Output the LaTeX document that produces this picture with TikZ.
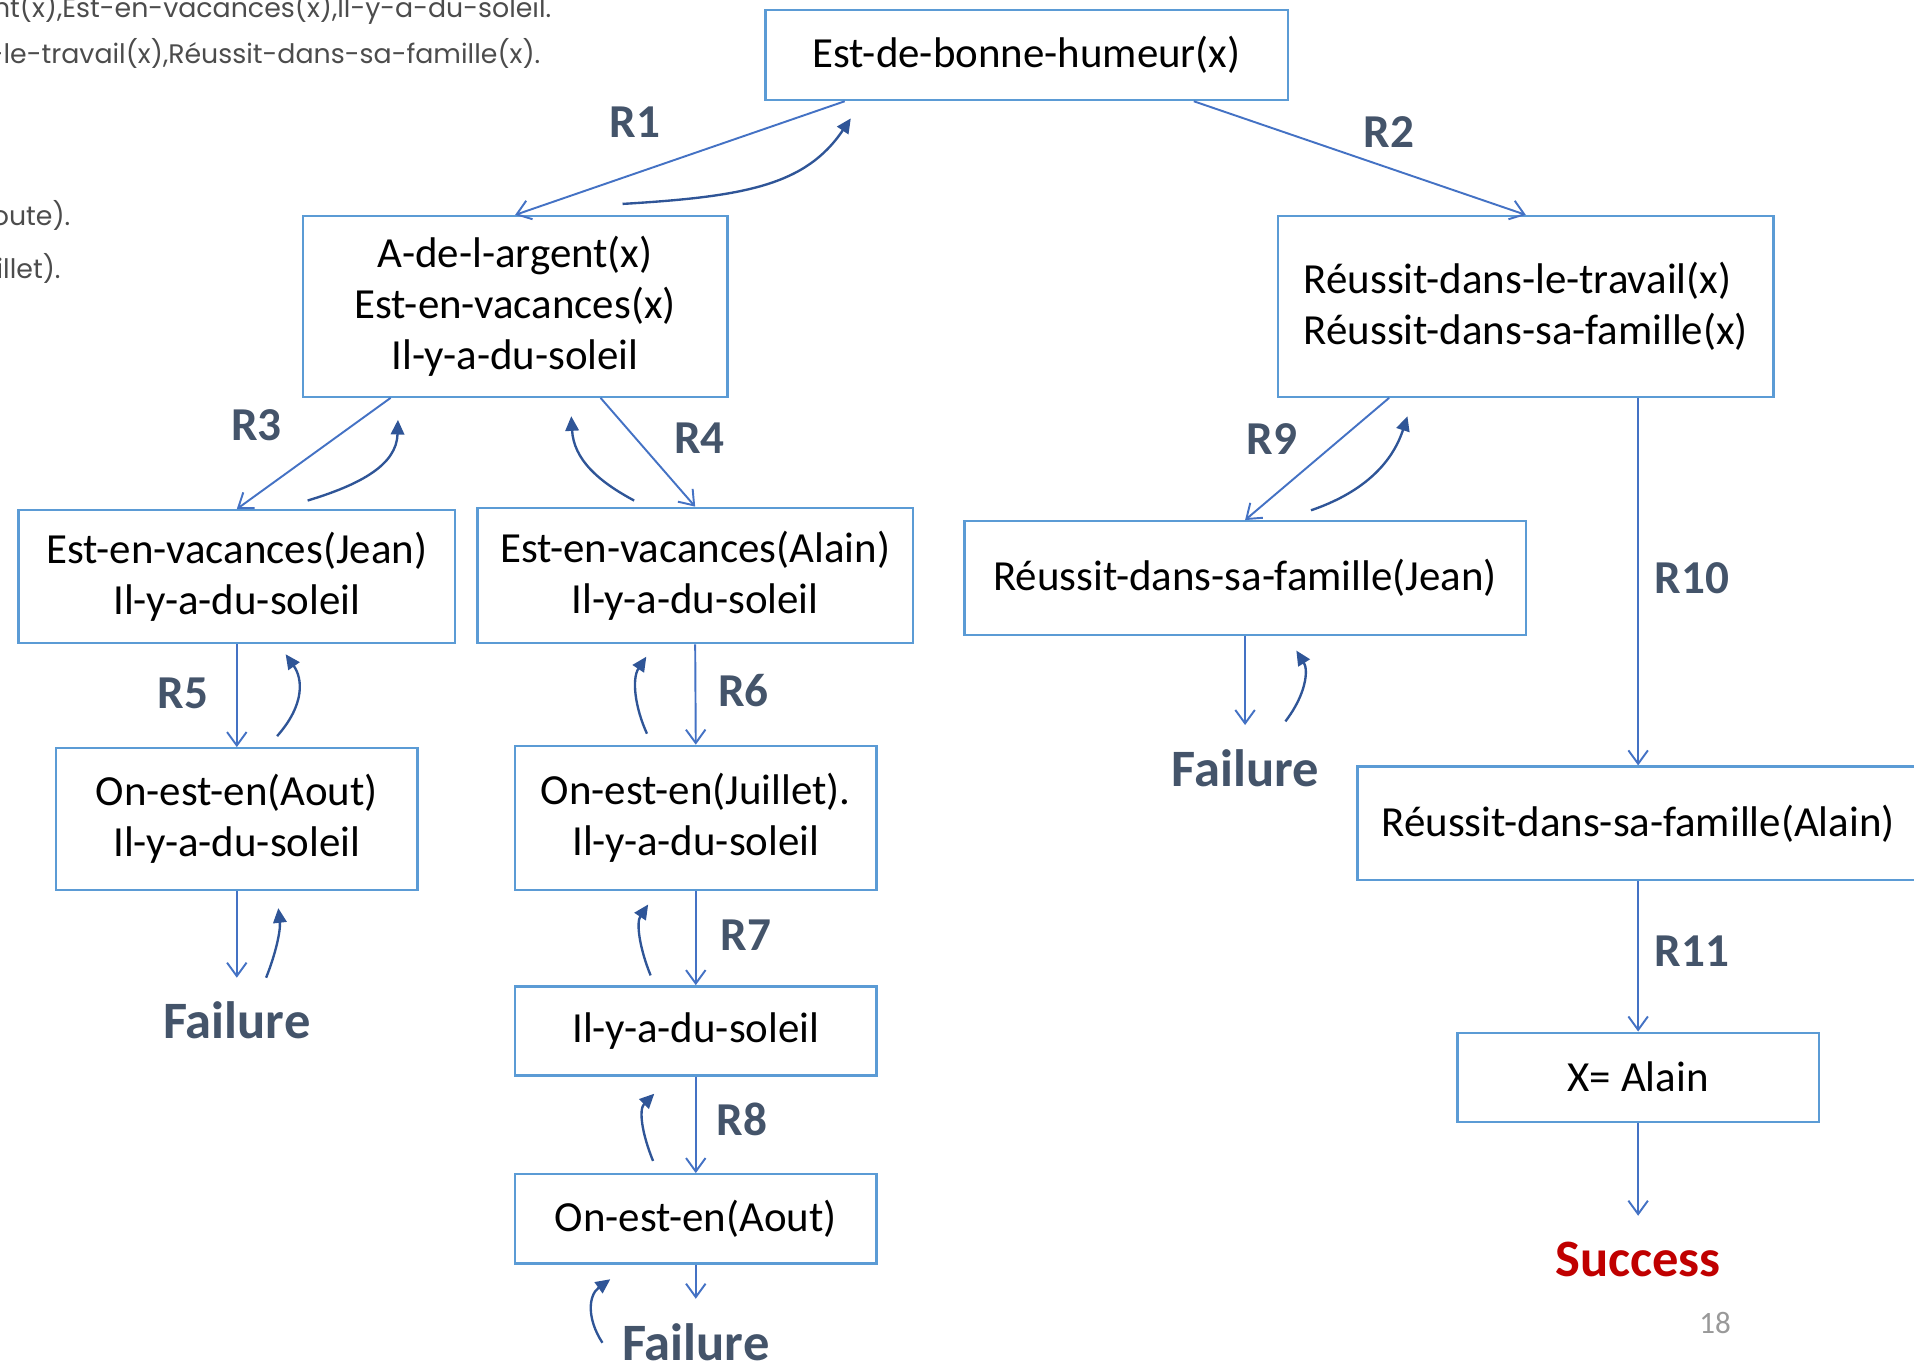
\documentclass[tikz,border=0pt]{standalone}
\usepackage{fontspec}
\setmainfont{Carlito}
\newfontfamily\gothic{Poppins}
\usetikzlibrary{calc}
\usetikzlibrary{arrows.meta}
\definecolor{boxblue}{RGB}{91,155,213}
\definecolor{arrblue}{RGB}{68,114,196}
\definecolor{backblue}{RGB}{47,85,151}
\definecolor{slate}{RGB}{68,84,106}
\definecolor{okred}{RGB}{192,0,0}
\newcommand\backArr[4]{
    \draw[Bk] (#1) .. controls ($(#1)+(#3)$) and ($(#2)+(#4)$) .. (#2);
}

\begin{document}
\begin{tikzpicture}[x=0.02cm, y=-0.02cm,
        X/.style={draw=boxblue, line width=1.1pt, inner sep=0pt, align=center,
            font=\fontsize{20}{23.8}\selectfont},
        D/.style={draw=arrblue, line width=0.9pt,
            -{Straight Barb[length=0.22cm,width=0.32cm]}},
        Bk/.style={draw=backblue, line width=1.1pt,
            -{Triangle[length=0.24cm,width=0.22cm]}},
        R/.style={text=slate, font=\bfseries\fontsize{22}{26}\selectfont},
        F/.style={text=slate, font=\bfseries\fontsize{24.5}{29}\selectfont},
        G/.style={text=black!70, inner sep=0pt, font=\gothic\fontsize{12.5}{15}\selectfont}
    ]
    \useasboundingbox (0,0) rectangle (1568,1117);

    % bits of the slide text, cut at the left
    \node[G, anchor=base east] (t1) at (452,14) {nt(x),Est-en-vacances(x),Il-y-a-du-soleil.};
    \node[G, anchor=base east] (t2) at (443,52) {s-le-travail(x),Réussit-dans-sa-famille(x).};
    \node[G, anchor=base east] (t3) at (58,185) {oute).};
    \node[G, anchor=base east] (t4) at (50,228) {illet).};

    % boxes
    \node[X, minimum width=8.56cm, minimum height=1.48cm] (top) at (841,45) {Est-de-bonne-humeur(x)};
    \node[X, minimum width=6.96cm, minimum height=2.96cm] (A) at (422,251)
        {A-de-l-argent(x)\\Est-en-vacances(x)\\Il-y-a-du-soleil};
    \node[X, align=left, minimum width=8.12cm, minimum height=2.96cm] (B) at (1250,251)
        {Réussit-dans-le-travail(x)\\Réussit-dans-sa-famille(x)};
    \node[X, minimum width=7.16cm, minimum height=2.18cm] (C) at (194,472.5)
        {Est-en-vacances(Jean)\\Il-y-a-du-soleil};
    \node[X, minimum width=7.14cm, minimum height=2.22cm] (D) at (569.5,471.5)
        {Est-en-vacances(Alain)\\Il-y-a-du-soleil};
    \node[X, minimum width=5.92cm, minimum height=2.32cm] (E) at (194,671)
        {On-est-en(Aout)\\Il-y-a-du-soleil};
    \node[X, minimum width=5.92cm, minimum height=2.36cm] (F) at (570,670)
        {On-est-en(Juillet).\\Il-y-a-du-soleil};
    \node[X, minimum width=5.92cm, minimum height=1.46cm] (G) at (570,844.5) {Il-y-a-du-soleil};
    \node[X, minimum width=5.92cm, minimum height=1.46cm] (H) at (570,998.5) {On-est-en(Aout)};
    \node[X, minimum width=9.2cm, minimum height=1.86cm] (I) at (1020,473.5)
        {Réussit-dans-sa-famille(Jean)};
    \node[X, minimum width=9.2cm, minimum height=1.86cm] (J) at (1342,674.5)
        {Réussit-dans-sa-famille(Alain)};
    \node[X, minimum width=5.92cm, minimum height=1.46cm] (K) at (1342,882.5) {X= Alain};

    % ends
    \node[F] (f1) at (194,836) {Failure};
    \node[F] (f2) at (570,1100) {Failure};
    \node[F] (f3) at (1020,629) {Failure};
    \node[F, text=okred] (ok) at (1342,1032) {Success};
    \node[text=black!40, font=\fontsize{14.5}{17}\selectfont] (pg) at (1405,1084) {18};

    % rule labels
    \foreach \t/\p in {R1/{520,100}, R2/{1138,108}, R3/{210,348}, R4/{573,359},
                      R5/{150,568}, R6/{609,566}, R7/{611,766}, R8/{608,917},
                      R9/{1042,360}, R10/{1386,474}, R11/{1386,779}}
    {
        \node[R] (\t) at (\p) {\t};
    }

    % going down
    \coordinate (e1) at ($(E.south)+(0,71)$);
    \coordinate (e2) at ($(H.south)+(0,28)$);
    \coordinate (e3) at ($(I.south)+(0,73)$);
    \coordinate (e4) at ($(K.south)+(0,76)$);
    \draw[D] ($(top.south)+(-149,0)$) -- (A.north);
    \draw[D] ($(top.south)+(137,0)$) -- (B.north);
    \draw[D] ($(A.south)+(-102,0)$) -- (C.north);
    \draw[D] ($(A.south)+(70,0)$) -- (D.north);
    \draw[D] (C.south) -- (E.north);
    \draw[D] (D.south) -- (F.north);
    \draw[D] (F.south) -- (G.north);
    \draw[D] (G.south) -- (H.north);
    \draw[D] (E.south) -- (e1);
    \draw[D] (H.south) -- (e2);
    \draw[D] ($(B.south)+(-112,0)$) -- (I.north);
    \draw[D] (I.south) -- (e3);
    \draw[D] ($(B.south)+(92,0)$) -- (J.north);
    \draw[D] (J.south) -- (K.north);
    \draw[D] (K.south) -- (e4);

    % going back
    \coordinate (b1) at ($(A.north)+(88,-9)$);    \coordinate (a1) at ($(top.south)+(-144,14)$);
    \coordinate (b3) at ($(C.north)+(58,-7)$);    \coordinate (a3) at ($(A.south)+(-96,18)$);
    \coordinate (b4) at ($(D.north)+(-50,-5)$);   \coordinate (a4) at ($(A.south)+(46,15)$);
    \coordinate (b5) at ($(E.north)+(33,-9)$);    \coordinate (a5) at ($(C.south)+(40,8)$);
    \coordinate (b6) at ($(F.north)+(-40,-9)$);   \coordinate (a6) at ($(D.south)+(-40,10)$);
    \coordinate (b7) at ($(G.north)+(-37,-8)$);   \coordinate (a7) at ($(F.south)+(-39,11)$);
    \coordinate (b8) at ($(H.north)+(-35,-10)$);  \coordinate (a8) at ($(G.south)+(-34,14)$);
    \coordinate (bh) at ($(f2.west)+(-10,0)$);    \coordinate (ah) at ($(H.south)+(-70,12)$);
    \coordinate (be) at ($(E.south)+(24,71)$);    \coordinate (ae) at ($(E.south)+(34,14)$);
    \coordinate (b9) at ($(I.north)+(54,-8)$);    \coordinate (a9) at ($(B.south)+(-97,15)$);
    \coordinate (bi) at ($(I.south)+(33,70)$);    \coordinate (ai) at ($(I.south)+(42,12)$);
    \backArr{b1}{a1}{100,-6}{-37,55}
    \backArr{b3}{a3}{43,-13}{-1,37}
    \backArr{b4}{a4}{-30,-16}{2,35}
    \backArr{b5}{a5}{23,-26}{14,20}
    \backArr{b6}{a6}{-10,-22}{-12,18}
    \backArr{b7}{a7}{-9,-22}{-10,15}
    \backArr{b8}{a8}{-9,-22}{-13,13}
    \backArr{bh}{ah}{-13,-20}{-18,13}
    \backArr{be}{ae}{8,-20}{2,18}
    \backArr{b9}{a9}{41,-14}{-13,40}
    \backArr{bi}{ai}{17,-22}{10,16}
\end{tikzpicture}
\end{document}
